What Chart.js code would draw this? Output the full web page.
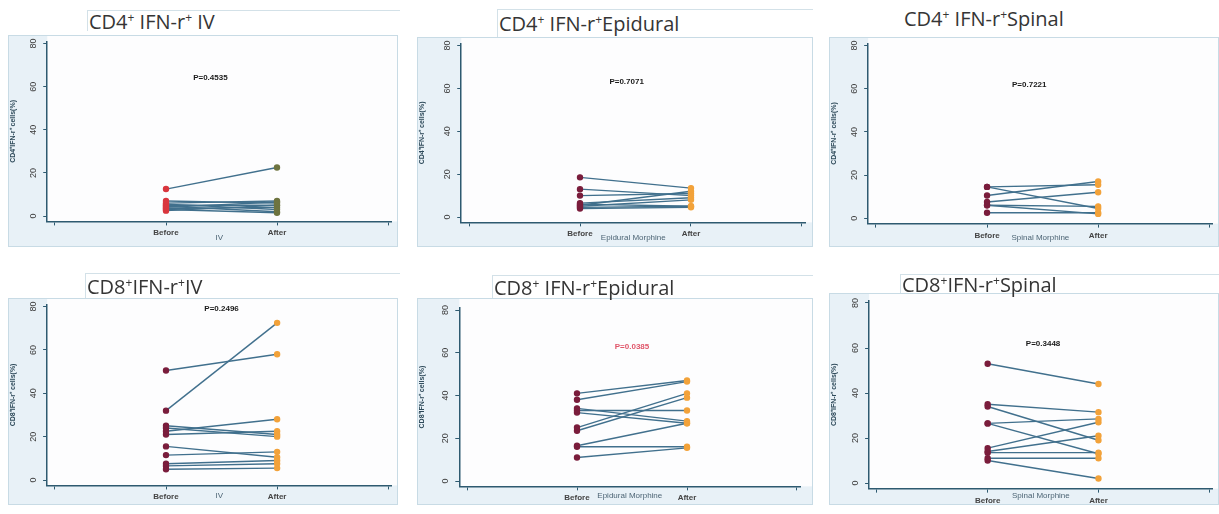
<!DOCTYPE html>
<html>
<head>
<meta charset="utf-8">
<script src="https://cdn.jsdelivr.net/npm/chart.js@4"></script>
<style>
  body { margin: 0; width: 1219px; height: 514px; position: relative; overflow: hidden; background: #fff; }
  .frame { position: absolute; background: #e8f1f7; border: 1px solid #c8dbe5; box-sizing: border-box; }
  .frame canvas { position: absolute; left: 0; top: 0; }
  .ttl { position: absolute; background: #fff; border-top: 1px solid #d3e1e8; border-left: 1px solid #d3e1e8; box-sizing: border-box;
         font-family: "Open Sans", sans-serif; font-size: 20px; color: #353535; white-space: nowrap; padding-left: 1px; }
  .ttl sup { font-size: 60%; vertical-align: 0.55em; line-height: 0; }
</style>
</head>
<body>
<script>
// categories / ticks
const groups = ['Before', 'After'];
const yTicks = [0, 20, 40, 60, 80];

// CD4+ IFN-r+ cells (%)
const cd4IvBefore = [12.5, 7, 6, 5.5, 5, 4.5, 4, 3.5, 3, 2.5];
const cd4IvAfter  = [22.5, 6, 7, 3, 5, 2, 6.5, 4, 1.5, 5];
const cd4EpiBefore = [18.5, 13, 10, 6.5, 6, 5.5, 5, 4.5, 4];
const cd4EpiAfter  = [13.5, 10, 11, 9, 5, 12, 8, 5, 4.5];
const cd4SpiBefore = [14.5, 14.5, 10.5, 7.5, 6, 6, 2.5];
const cd4SpiAfter  = [4.5, 15.5, 17, 12, 5.5, 2, 2.5];

// CD8+ IFN-r+ cells (%)
const cd8IvBefore = [50.5, 32, 25, 24, 22.5, 21, 15.5, 11.5, 7.5, 6.5, 5];
const cd8IvAfter  = [58, 72.5, 21, 20, 28, 22.5, 10.5, 13, 9, 7.5, 5.5];
const cd8EpiBefore = [41, 38, 34, 33, 32, 25, 23.5, 16.5, 16, 11];
const cd8EpiAfter  = [47, 46.5, 28, 33, 27, 41, 39, 27, 16, 15.5];
const cd8SpiBefore = [53, 35, 34, 26.5, 26.5, 15.5, 14, 13.5, 11, 10];
const cd8SpiAfter  = [44, 31.5, 19, 28.5, 13, 27, 21, 13.5, 11, 2];

const pValues = ['P=0.4535', 'P=0.7071', 'P=0.7221', 'P=0.2496', 'P=0.0385', 'P=0.3448'];
const titles = [
  'CD4<sup>+</sup> IFN-r<sup>+</sup> IV', 'CD4<sup>+</sup> IFN-r<sup>+</sup>Epidural', 'CD4<sup>+</sup> IFN-r<sup>+</sup>Spinal',
  'CD8<sup>+</sup>IFN-r<sup>+</sup>IV', 'CD8<sup>+</sup> IFN-r<sup>+</sup>Epidural', 'CD8<sup>+</sup>IFN-r<sup>+</sup>Spinal'
];
const yTitles = ['CD4⁺IFN-r⁺ cells(%)', 'CD4⁺IFN-r⁺ cells(%)', 'CD4⁺IFN-r⁺ cells(%)',
                 'CD8⁺IFN-r⁺ cells(%)', 'CD8⁺IFN-r⁺ cells(%)', 'CD8⁺IFN-r⁺ cells(%)'];
const xTitles = ['IV', 'Epidural Morphine', 'Spinal Morphine', 'IV', 'Epidural Morphine', 'Spinal Morphine'];

const series = [
  [cd4IvBefore, cd4IvAfter], [cd4EpiBefore, cd4EpiAfter], [cd4SpiBefore, cd4SpiAfter],
  [cd8IvBefore, cd8IvAfter], [cd8EpiBefore, cd8EpiAfter], [cd8SpiBefore, cd8SpiAfter]
];

// layout of each panel (page pixels): frame, title box, where 0/80 and Before/After fall
const panels = [
  { fx: 8,   fy: 35,  fw: 390, fh: 212, tx: 87,  ty: 10,  tw: 313, th: 21, y0: 216, y80: 43,  xB: 166, xA: 277, pAt: [1.4, 64] },
  { fx: 417, fy: 37,  fw: 396, fh: 210, tx: 497, ty: 9,   tw: 316, th: 28, y0: 217, y80: 45,  xB: 580, xA: 691, pAt: [1.42, 63] },
  { fx: 829, fy: 37,  fw: 390, fh: 210, tx: 903, ty: 6,   tw: 316, th: 25, y0: 218, y80: 39,  xB: 988, xA: 1100, pAt: [1.38, 62], noBox: true },
  { fx: 8,   fy: 298, fw: 390, fh: 207, tx: 85,  ty: 273, tw: 315, th: 25, y0: 480, y80: 306, xB: 168, xA: 281, pAt: [1.5, 79] },
  { fx: 417, fy: 298, fw: 396, fh: 207, tx: 492, ty: 275, tw: 321, th: 23, y0: 481, y80: 310, xB: 577, xA: 687, pAt: [1.5, 63], red: true },
  { fx: 829, fy: 293, fw: 390, fh: 212, tx: 900, ty: 274, tw: 319, th: 19, y0: 483, y80: 303, xB: 990, xA: 1103, pAt: [1.5, 62] }
];

const X_MIN = -0.07, X_MAX = 3.03, Y_MIN = -2.5, Y_MAX = 81;
const lineColor = '#41708d';
const axisColor = '#2e5a70';

const panelPlugin = {
  id: 'panelDeco',
  beforeDraw(chart) {
    const { ctx, chartArea } = chart;
    ctx.save();
    ctx.fillStyle = '#fdfdfe';
    ctx.fillRect(chartArea.left, 0, chart.width - chartArea.left, chartArea.bottom);
    ctx.restore();
  },
  afterDraw(chart, args, opts) {
    const { ctx } = chart;
    const ys = chart.scales.y, xs = chart.scales.x;
    ctx.save();
    // vertical tick labels
    ctx.fillStyle = '#3a3a3a';
    ctx.font = '9px "Liberation Sans", Arial, sans-serif';
    ctx.textAlign = 'center';
    ctx.textBaseline = 'middle';
    ys.ticks.forEach(t => {
      ctx.save();
      ctx.translate(ys.right - 14, ys.getPixelForValue(t.value));
      ctx.rotate(-Math.PI / 2);
      ctx.fillText(String(t.value), 0, 0);
      ctx.restore();
    });
    // p value
    ctx.font = 'bold 8px "Liberation Sans", Arial, sans-serif';
    ctx.fillStyle = opts.red ? '#e0566a' : '#1a1a1a';
    ctx.fillText(opts.text, xs.getPixelForValue(opts.at[0]), ys.getPixelForValue(opts.at[1]));
    ctx.restore();
  }
};

panels.forEach((p, i) => {
  const frame = document.createElement('div');
  frame.className = 'frame';
  Object.assign(frame.style, { left: p.fx + 'px', top: p.fy + 'px', width: p.fw + 'px', height: p.fh + 'px' });
  const canvas = document.createElement('canvas');
  canvas.width = p.fw - 2; canvas.height = p.fh - 2;
  frame.appendChild(canvas);
  document.body.appendChild(frame);

  const ttl = document.createElement('div');
  ttl.className = 'ttl';
  ttl.innerHTML = titles[i];
  Object.assign(ttl.style, { left: p.tx + 'px', top: p.ty + 'px', width: p.tw + 'px', height: p.th + 'px', lineHeight: p.th + 'px' });
  if (p.noBox) ttl.style.border = 'none';
  document.body.appendChild(ttl);

  // chart area derived from where the ticks sit in the reference
  const ppuY = (p.y0 - p.y80) / 80, ppuX = p.xA - p.xB;
  const ox = p.fx + 1, oy = p.fy + 1;
  const left = p.xB - (1 - X_MIN) * ppuX - ox;
  const right = p.xB + (X_MAX - 1) * ppuX - ox;
  const top = p.y80 - (Y_MAX - 80) * ppuY - oy;
  const bottom = p.y0 - Y_MIN * ppuY - oy;

  const [before, after] = series[i];
  const bColor = i === 0 ? '#d9363e' : '#7a1d3c';
  const aColor = i === 0 ? '#6e7440' : '#f2a23a';
  const datasets = before.map((b, k) => ({
    data: [{ x: 1, y: b }, { x: 2, y: after[k] }],
    borderColor: lineColor,
    borderWidth: 1.4,
    pointRadius: 2.5,
    pointBackgroundColor: [bColor, aColor],
    pointBorderColor: [bColor, aColor]
  }));

  new Chart(canvas, {
    type: 'line',
    data: { datasets },
    options: {
      responsive: false,
      animation: false,
      layout: { padding: { left: 0, top: top, right: canvas.width - right, bottom: 0 } },
      plugins: {
        legend: { display: false },
        tooltip: { enabled: false },
        panelDeco: { text: pValues[i], at: p.pAt, red: !!p.red }
      },
      scales: {
        x: {
          type: 'linear', min: X_MIN, max: X_MAX,
          afterBuildTicks: s => { s.ticks = [0, 1, 2, 3].map(v => ({ value: v })); },
          afterFit: s => { s.height = canvas.height - bottom; },
          ticks: {
            autoSkip: false, maxRotation: 0, padding: 3, color: '#444',
            font: { family: '"Liberation Sans", Arial, sans-serif', size: 8, weight: 'bold' },
            callback: v => (v === 1 ? groups[0] : v === 2 ? groups[1] : '')
          },
          grid: { drawOnChartArea: false, drawTicks: true, tickLength: 4, color: axisColor, lineWidth: 1 },
          border: { display: true, color: axisColor, width: 1.5 },
          title: { display: true, text: xTitles[i], color: '#4d6575', padding: { top: 0, bottom: 3 },
                   font: { family: '"Liberation Sans", Arial, sans-serif', size: 8 } }
        },
        y: {
          min: Y_MIN, max: Y_MAX,
          afterBuildTicks: s => { s.ticks = yTicks.map(v => ({ value: v })); },
          afterFit: s => { s.width = left; },
          ticks: { display: false },
          grid: { drawOnChartArea: false, drawTicks: true, tickLength: 4, color: axisColor, lineWidth: 1 },
          border: { display: true, color: axisColor, width: 1.5 },
          title: { display: true, text: yTitles[i], color: '#2e4a5a', padding: 0,
                   font: { family: '"Liberation Sans", Arial, sans-serif', size: 7, weight: 'bold' } }
        }
      }
    },
    plugins: [panelPlugin]
  });
});
</script>
</body>
</html>
